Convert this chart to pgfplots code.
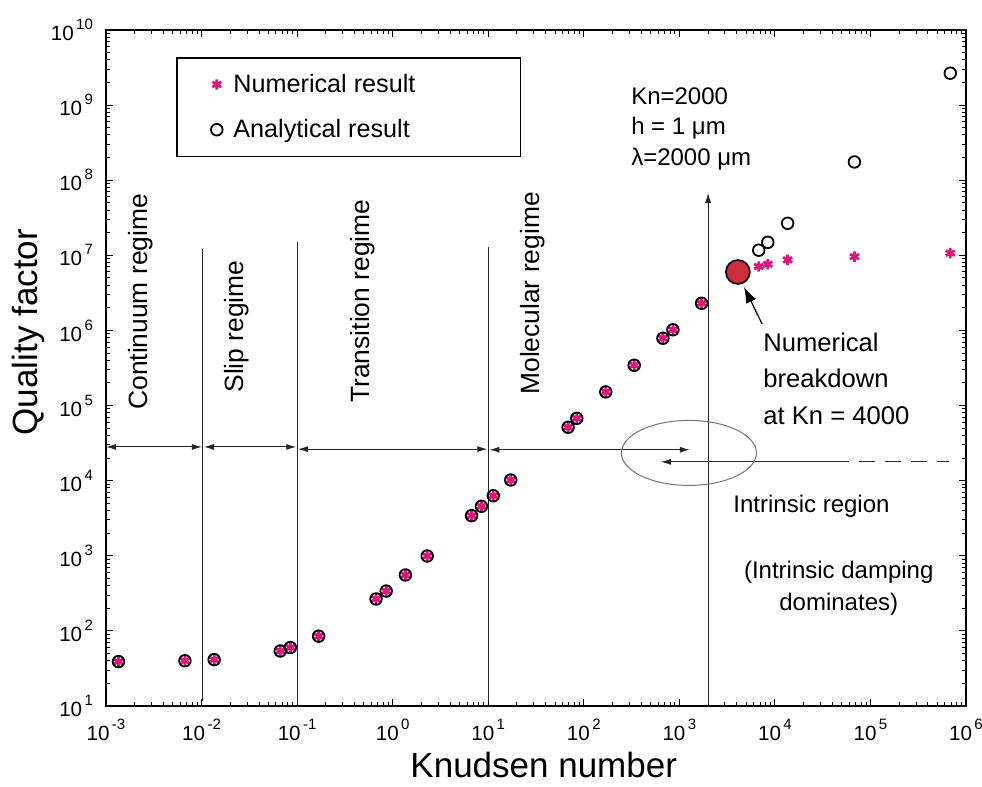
\documentclass[border=0pt]{standalone}
\usepackage{fontspec}
\setmainfont{Liberation Sans}
\usepackage{pgfplots}
\pgfplotsset{compat=1.18}
\usetikzlibrary{arrows.meta}

\definecolor{nummag}{RGB}{222,20,128}
\definecolor{breakred}{RGB}{205,45,60}
\newcommand{\tl}[1]{10\hspace{1.2pt}\raisebox{5.5pt}{\fontsize{7.5}{8}\selectfont #1}}

\begin{document}
\begin{tikzpicture}[>={Latex[length=5pt,width=3pt]}]
\useasboundingbox (-53pt,-40.5pt) rectangle (438pt,353pt);
\begin{axis}[
    scale only axis,
    width=430pt, height=338pt,
    xmode=log, ymode=log,
    xmin=1e-3, xmax=1e6,
    ymin=1e1, ymax=1e10,
    clip=false,
    axis line style={line width=0.8pt},
    major tick length=3.5pt,
    minor tick length=1.8pt,
    every tick/.style={black, line width=0.5pt},
    xtick={1e-3,1e-2,1e-1,1,1e1,1e2,1e3,1e4,1e5,1e6},
    xticklabels={\tl{-3},\tl{-2},\tl{-1},\tl{0},\tl{1},\tl{2},\tl{3},\tl{4},\tl{5},\tl{6}},
    ytick={1e1,1e2,1e3,1e4,1e5,1e6,1e7,1e8,1e9,1e10},
    yticklabels={\tl{1},\tl{2},\tl{3},\tl{4},\tl{5},\tl{6},\tl{7},\tl{8},\tl{9},\tl{10}},
    tick label style={font=\fontsize{10.3}{12}\selectfont},
    xticklabel style={yshift=-3pt},
    yticklabel style={xshift=-3pt},
    xlabel={Knudsen number},
    ylabel={Quality factor},
    label style={font=\fontsize{17.5}{20}\selectfont},
    xlabel style={at={(axis description cs:0.509,0)}, anchor=base, yshift=-36pt},
    ylabel style={at={(axis description cs:-0.0802,0.553)}, anchor=base},
    legend cell align=left,
    legend style={at={(rel axis cs:0.0814,0.960)}, anchor=north west,
        draw=black, line width=0.8pt, fill=white,
        font=\fontsize{12.6}{15}\selectfont,
        inner xsep=11.5pt, inner ysep=6pt, row sep=8pt},
    legend image code/.code={
        \path[draw=none] (0pt,0pt) -- (14.8pt,0pt);
        \draw[#1, only marks] plot coordinates {(8.5pt,0pt)};
    },
]
% numerical result
\addplot[only marks, mark=asterisk, mark size=2.6pt, color=nummag,
    mark options={line width=1.4pt}] coordinates {
    (1.35e-3,39) (6.7e-3,40) (0.01355,41.4) (0.0667,54) (0.085,60) (0.168,85)
    (0.67,266) (0.855,339) (1.36,555) (2.3,993) (6.7,3420) (8.5,4560)
    (11.3,6300) (17.2,10200) (68.6,51400) (84.5,67600) (170,1.52e5)
    (337,3.44e5) (673,7.87e5) (857,1.02e6) (1710,2.3e6)
    (6780,7.1e6) (8430,7.6e6) (13600,8.7e6) (68000,9.6e6) (685000,1.07e7)
};
\addlegendentry{Numerical result\hspace*{39pt}}
% analytical result
\addplot[only marks, mark=o, mark size=2.9pt, color=black,
    mark options={line width=0.9pt}] coordinates {
    (1.35e-3,39) (6.7e-3,40) (0.01355,41.4) (0.0667,54) (0.085,60) (0.168,85)
    (0.67,266) (0.855,339) (1.36,555) (2.3,993) (6.7,3420) (8.5,4560)
    (11.3,6300) (17.2,10200) (68.6,51400) (84.5,67600) (170,1.52e5)
    (337,3.44e5) (673,7.87e5) (857,1.02e6) (1710,2.3e6)
    (6780,1.17e7) (8430,1.49e7) (13600,2.67e7) (68000,1.75e8) (685000,2.66e9)
};
\addlegendentry{Analytical result}
% numerical breakdown point
\addplot[only marks, mark=*, mark size=6pt, forget plot,
    mark options={fill=breakred, draw=black, line width=0.8pt}] coordinates {(4100,6.0e6)};

% regime boundaries
\draw[black!85, line width=0.5pt] (0.0103,11.5) -- (0.0103,1.22e7);
\draw[black!85, line width=0.5pt] (0.1,10) -- (0.1,1.5e7);
\draw[black!85, line width=0.5pt] (10,11.5) -- (10,1.29e7);
\draw[black!85, line width=0.5pt, ->] (2000,10) -- (2000,6.8e7);

% regime arrows
\draw[black!85, line width=0.5pt, <->] (1e-3,28100) -- (0.0101,28100);
\draw[black!85, line width=0.5pt, <->] (0.0106,28100) -- (0.098,28100);
\draw[black!85, line width=0.5pt, <->] (0.102,26300) -- (9.8,26300);
\draw[black!85, line width=0.5pt, <->] (10.3,25800) -- (1290,25800);
\draw[black!85, line width=0.5pt, <-] (641,17800) -- (40700,17800);
\draw[black!85, line width=0.5pt, dash pattern=on 8pt off 5pt] (40700,17800) -- (6.7e5,17800);
\draw[black!55, line width=0.5pt] (1260,23400) ellipse [x radius=33.75pt, y radius=16.25pt];

% regime labels
\begin{scope}[every node/.style={font=\fontsize{13.2}{15}\selectfont, rotate=90, anchor=west, inner sep=0pt}]
\node at (2.33e-3,87000) {Continuum regime};
\node at (0.0231,1.47e5) {Slip regime};
\node at (0.482,1.08e5) {Transition regime};
\node at (29.2,1.38e5) {Molecular regime};
\end{scope}

% text annotations
\node[anchor=north west, inner sep=0pt, align=left, font=\fontsize{12}{15.25}\selectfont]
    at (311,1.75e9) {Kn=2000\\h = 1 μm\\λ=2000 μm};
\node[anchor=north west, inner sep=0pt, align=left, font=\fontsize{12.8}{18.25}\selectfont]
    at (7520,9.5e5) {Numerical\\breakdown\\at Kn = 4000};
\draw[black, line width=0.6pt, -{Latex[length=8pt,width=5.5pt]}] (7350,1.22e6) -- (4750,3.79e6);
\node[anchor=base west, inner sep=0pt, font=\fontsize{12}{16}\selectfont]
    at (3650,3720) {Intrinsic region};
\node[anchor=north, inner sep=0pt, align=center, font=\fontsize{12}{16}\selectfont]
    at (46600,851) {(Intrinsic damping\\dominates)};
\end{axis}
\end{tikzpicture}
\end{document}
